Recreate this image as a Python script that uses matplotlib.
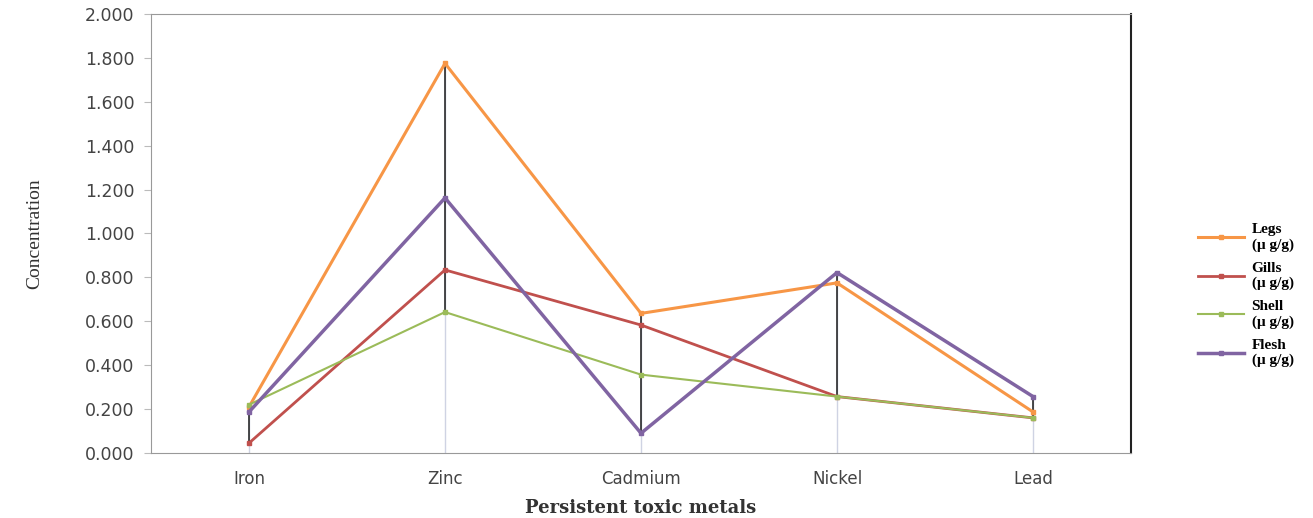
import matplotlib
matplotlib.use("Agg")
import matplotlib.pyplot as plt
import numpy as np

metals = ['Iron', 'Zinc', 'Cadmium', 'Nickel', 'Lead']
legs = [0.21, 1.775, 0.636, 0.775, 0.187]
gills = [0.045, 0.834, 0.583, 0.257, 0.16]
shell = [0.22, 0.642, 0.357, 0.257, 0.16]
flesh = [0.187, 1.162, 0.09, 0.822, 0.257]

series = [
    ('Legs\n(\u03bc g/g)', legs, '#F79646', 2.2),
    ('Gills\n(\u03bc g/g)', gills, '#C0504D', 2.0),
    ('Shell\n(\u03bc g/g)', shell, '#9BBB59', 1.5),
    ('Flesh\n(\u03bc g/g)', flesh, '#8064A2', 2.5),
]

x = np.arange(len(metals))
allv = np.array([legs, gills, shell, flesh])
hi = allv.max(axis=0)
lo = allv.min(axis=0)

fig = plt.figure(figsize=(13.13, 5.18), dpi=100)
ax = fig.add_axes([0.115, 0.1255, 0.7464, 0.8475])

# drop lines (grey) and high-low lines (black)
ax.vlines(x, 0, hi, colors='#cfd3e3', linewidth=1.0, zorder=1)
ax.vlines(x, lo, hi, colors='#1a1a1a', linewidth=1.1, zorder=2)

for name, vals, col, lw in series:
    ax.plot(x, vals, color=col, linewidth=lw, marker='s', markersize=3,
            label=name, zorder=3)

ax.set_xlim(-0.5, 4.5)
ax.set_ylim(0, 2.0)
ax.set_yticks(np.arange(0, 2.01, 0.2))
ax.set_yticklabels(['%.3f' % v for v in np.arange(0, 2.01, 0.2)])
ax.set_xticks(x)
ax.set_xticklabels(metals)
ax.tick_params(axis='y', labelsize=12.5, colors='#444444', length=5,
               color='#bbbbbb', pad=7)
ax.tick_params(axis='x', labelsize=12, colors='#444444', length=0, pad=12)

for s in ['left', 'bottom', 'top']:
    ax.spines[s].set_color('#999999')
ax.spines['right'].set_color('#222222')
ax.spines['right'].set_linewidth(1.5)

ax.set_xlabel('Persistent toxic metals', family='DejaVu Serif',
              fontweight='bold', fontsize=13, color='#333333', labelpad=8)
ax.set_ylabel('Concentration', family='Liberation Serif', fontsize=14,
              color='#333333', labelpad=30)

ax.legend(loc='center left', bbox_to_anchor=(0.902, 0.43),
          bbox_transform=fig.transFigure, frameon=False,
          prop={'family': 'Liberation Serif', 'weight': 'bold', 'size': 11},
          handlelength=3.0, handletextpad=0.5, labelspacing=0.65)

fig.savefig('out.png', dpi=100)
